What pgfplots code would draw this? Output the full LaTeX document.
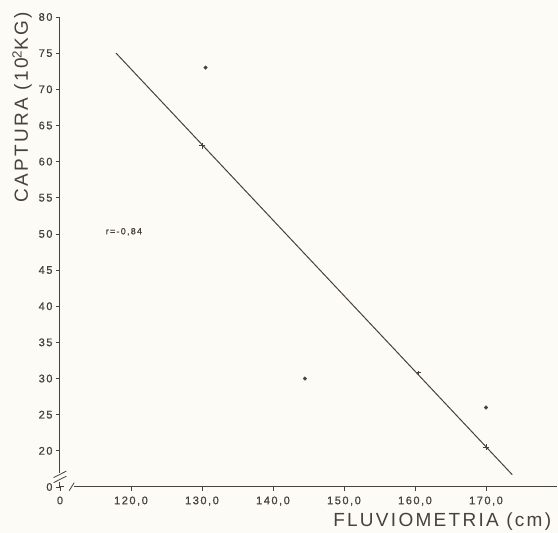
\documentclass[border=0pt]{standalone}
\usepackage{fontspec}
\setmainfont{Liberation Sans}
\newfontfamily\tickfont[LetterSpace=14,FakeBold=0.8]{Liberation Sans}
\newfontfamily\labfont[LetterSpace=12]{Liberation Sans}
\usepackage{pgfplots}
\pgfplotsset{compat=1.18}
\definecolor{ink}{RGB}{70,66,60}
\definecolor{paper}{RGB}{252,251,246}
\begin{document}
\begin{tikzpicture}
\fill[paper] (-60pt,-46pt) rectangle (498pt,487pt);
\begin{axis}[
  at={(0,0)}, anchor=south west,
  width=497pt, height=470pt, scale only axis,
  xmin=110, xmax=180, ymin=15, ymax=80,
  axis lines*=left, axis line style={ink, line width=1pt, -},
  xtick={110,120,130,140,150,160,170},
  xticklabels={0,{120,0},{130,0},{140,0},{150,0},{160,0},{170,0}},
  ytick={15,20,25,30,35,40,45,50,55,60,65,70,75,80},
  yticklabels={0,20,25,30,35,40,45,50,55,60,65,70,75,80},
  tick align=outside, major tick length=4pt,
  tick style={ink, line width=0.7pt},
  /pgf/number format/assume math mode=true,
  xticklabel style={font=\tickfont\fontsize{11}{11}\selectfont, text=ink, yshift=-2pt},
  yticklabel style={font=\tickfont\fontsize{11}{11}\selectfont, text=ink},
  xlabel={FLUVIOMETRIA (cm)},
  ylabel={CAPTURA (10\textsuperscript{2}KG)},
  xlabel style={font=\labfont\fontsize{19}{19}\selectfont, text=ink, at={(axis description cs:0.769,-0.0745)}, anchor=center},
  ylabel style={font=\labfont\fontsize{19}{19}\selectfont, text=ink, at={(axis description cs:-0.0765,0.808)}, anchor=center, rotate=0},
  clip=false,
]
\addplot[ink, line width=1pt] coordinates {(117.9,75) (173.7,16.7)};
\addplot[only marks, mark=*, mark size=1.8pt, ink] coordinates {(130.5,73) (144.5,30) (170,26)};
\addplot[only marks, mark=+, mark size=3pt, ink, line width=0.8pt] coordinates {(130,62.2) (170,20.5)};
\addplot[only marks, mark=+, mark size=2pt, ink, line width=0.8pt] coordinates {(160.5,30.8)};
\node[font=\tickfont\fontsize{9}{9}\selectfont, text=ink] at (axis cs:119,50.3) {r=-0,84};
% axis breaks
\draw[paper, line width=3pt] (axis cs:110,15.7) -- (axis cs:110,17.0);
\draw[paper, line width=3pt] (axis cs:110.5,15) -- (axis cs:112.0,15);
\draw[ink, line width=0.8pt] (axis cs:109.1,15.6) -- (axis cs:110.9,16.5);
\draw[ink, line width=0.8pt] (axis cs:109.1,16.3) -- (axis cs:110.9,17.2);
\draw[ink, line width=0.8pt] (axis cs:111.3,14.5) -- (axis cs:112.0,15.6);
\end{axis}
\pgfresetboundingbox
\path[use as bounding box] (-60pt,-46pt) rectangle (498pt,487pt);
\end{tikzpicture}
\end{document}
